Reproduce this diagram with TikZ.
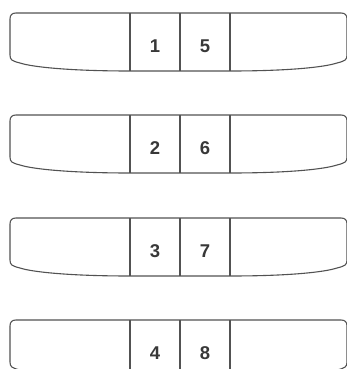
\documentclass[tikz,border=0pt]{standalone}
\usepackage{fontspec}
\setmainfont{Liberation Sans}
\usepackage{tikz}

\begin{document}
\begin{tikzpicture}[
    x=1pt, y=-1pt,
    tray/.style={draw=black!68, line width=1.1pt, line join=round},
    divider/.style={draw=black!68, line width=1.1pt},
    digit/.style={text=black!78, font=\bfseries\fontsize{18.5}{18.5}\selectfont}
]
\clip (0,0) rectangle (347,369);
\foreach \y/\a/\b in {13/1/5, 115/2/6, 218/3/7, 320/4/8} {
  % outline of one strip
  \draw[tray] (130,\y+58) .. controls (70,\y+58) and (32,\y+54) .. (20,\y+50)
    .. controls (12,\y+48) and (10,\y+47) .. (10,\y+42) -- (10,\y+6)
    .. controls (10,\y+2) and (12,\y) .. (16,\y) -- (341,\y)
    .. controls (345,\y) and (347,\y+2) .. (347,\y+6) -- (347,\y+42)
    .. controls (347,\y+47) and (345,\y+48) .. (337,\y+50)
    .. controls (325,\y+54) and (290,\y+58) .. (230,\y+58) -- cycle;
  \draw[divider] (130,\y) -- (130,\y+58);
  \draw[divider] (180,\y) -- (180,\y+58);
  \draw[divider] (230,\y) -- (230,\y+58);
  \node[digit] (key\a) at (155,\y+33) {\a};
  \node[digit] (key\b) at (205,\y+33) {\b};
}
\end{tikzpicture}
\end{document}
